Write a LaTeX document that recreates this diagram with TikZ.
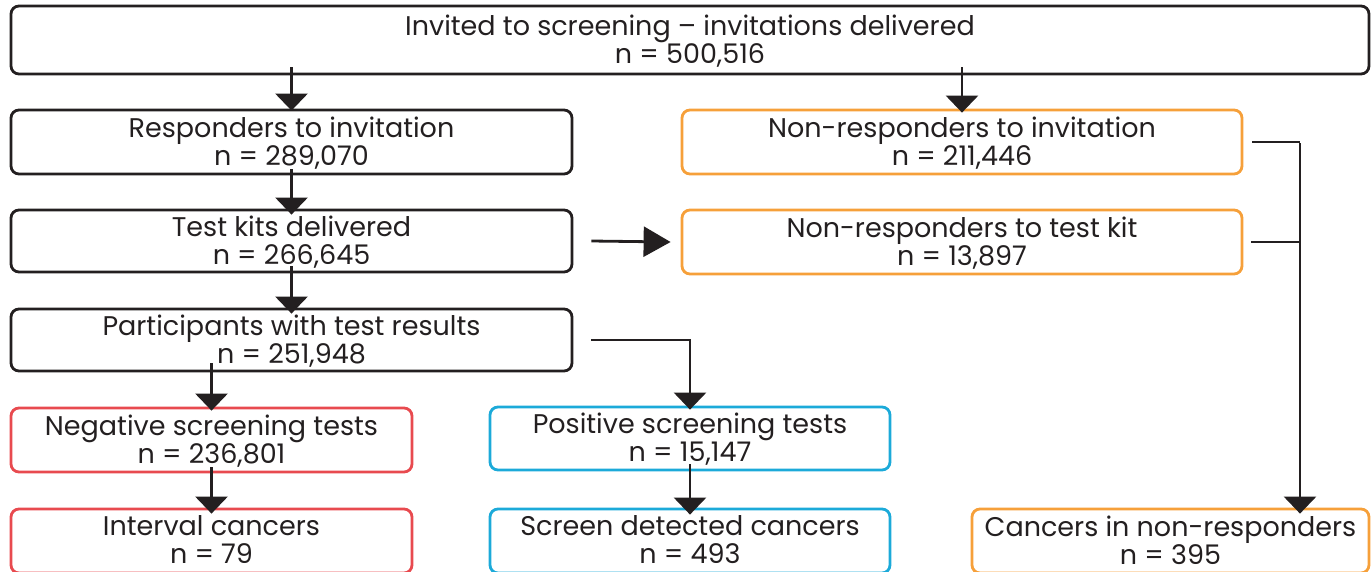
\documentclass[tikz,border=0pt]{standalone}
\usepackage{fontspec}
\setmainfont{Poppins}
\usetikzlibrary{arrows.meta}
\definecolor{ink}{HTML}{231F20}
\definecolor{orng}{HTML}{F6A03A}
\definecolor{redb}{HTML}{E84A4F}
\definecolor{cyanb}{HTML}{1CAAD9}
\newcommand\twolines[2]{\raisebox{-3pt}[\height][\depth]{\begin{tabular}{@{}c@{}}#1\\#2\end{tabular}}}
\tikzset{
  box/.style={draw=ink, rounded corners=8pt, line width=2.8pt, inner sep=0pt,
    align=center, text=ink, font=\fontsize{27}{27}\selectfont},
  obox/.style={box, draw=orng},
  rbox/.style={box, draw=redb},
  cbox/.style={box, draw=cyanb},
  conn/.style={draw=ink, line width=2.8pt},
  arr/.style={conn, -{Triangle[width=32pt,length=17pt]}},
  harr/.style={conn, -{Triangle[width=30pt,length=27pt]}},
}
\begin{document}
\begin{tikzpicture}[x=1pt,y=-1pt]
\useasboundingbox (0,0) rectangle (1371,571);
\begin{scope}
\clip (0,0) rectangle (1371,571);
\node[box, minimum width=1358pt, minimum height=68pt] (top) at (690,40) {\twolines{Invited to screening – invitations delivered}{n = 500,516}};
\node[box, minimum width=561pt, minimum height=64pt] (resp) at (291.5,142) {\twolines{Responders to invitation}{n = 289,070}};
\node[obox, minimum width=560pt, minimum height=64pt] (nri) at (962,142) {\twolines{Non-responders to invitation}{n = 211,446}};
\node[box, minimum width=561pt, minimum height=62pt] (kit) at (291.5,241) {\twolines{Test kits delivered}{n = 266,645}};
\node[obox, minimum width=560pt, minimum height=64pt] (nrt) at (962,242) {\twolines{Non-responders to test kit}{n = 13,897}};
\node[box, minimum width=561pt, minimum height=62pt] (part) at (291.5,340) {\twolines{Participants with test results}{n = 251,948}};
\node[rbox, minimum width=401pt, minimum height=64pt] (neg) at (211.5,440) {\twolines{Negative screening tests}{n = 236,801}};
\node[cbox, minimum width=400pt, minimum height=63pt] (pos) at (690,438.5) {\twolines{Positive screening tests}{n = 15,147}};
\node[rbox, minimum width=401pt, minimum height=64pt] (intv) at (211.5,541) {\twolines{Interval cancers}{n = 79}};
\node[cbox, minimum width=400pt, minimum height=64pt] (scr) at (690,541) {\twolines{Screen detected cancers}{n = 493}};
\node[obox, minimum width=397pt, minimum height=64pt] (canc) at (1170.5,541) {\twolines{Cancers in non-responders}{n = 395}};
\coordinate (bus) at (1300,142);
% connectors
\draw[arr] ([yshift=8]top.south -| resp.north) -- ([yshift=-2]resp.north);
\draw[arr] ([yshift=8]top.south -| nri.north) -- ([yshift=-4]nri.north);
\draw[arr] ([yshift=6]resp.south) -- ([yshift=-6]kit.north);
\draw[arr] ([yshift=7]kit.south) -- ([yshift=-6]part.north);
\draw[harr] ([xshift=18]kit.east) -- ([xshift=-10]nrt.west);
\draw[arr] ([xshift=18]part.east) -| ([yshift=-4]pos.north);
\draw[arr] ([yshift=9]part.south -| neg.north) -- ([yshift=-4]neg.north);
\draw[arr] ([yshift=6]neg.south) -- ([yshift=-6]intv.north);
\draw[arr] ([yshift=7]pos.south) -- ([yshift=-7]scr.north);
\draw[conn] ([xshift=9]nri.east) -- (bus);
\draw[conn] ([xshift=8]nrt.east) -- (nrt.east -| bus);
\draw[arr] ([yshift=-1.4]bus) -- ([yshift=-6]canc.north -| bus);
\end{scope}
\end{tikzpicture}
\end{document}
